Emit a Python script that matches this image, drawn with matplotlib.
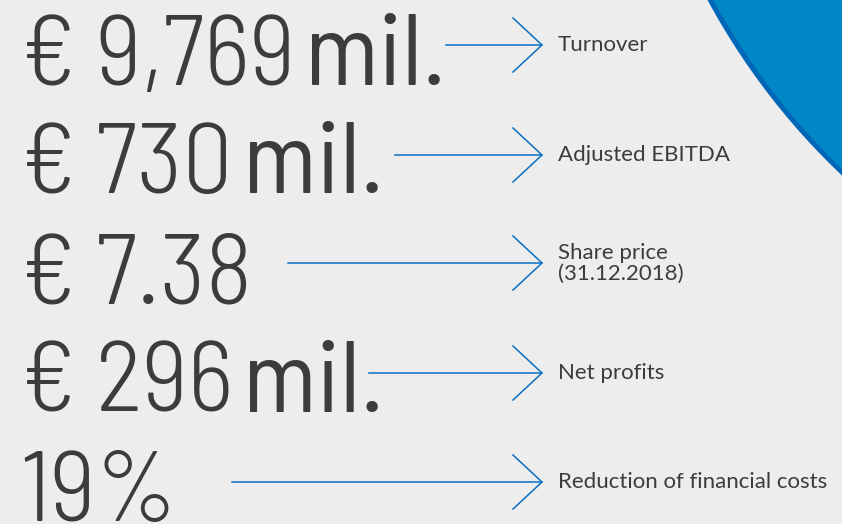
import matplotlib
matplotlib.use("Agg")
import matplotlib.pyplot as plt
from matplotlib.patches import Circle

# key figures
values = ["€ 9,769", "€ 730", "€ 7.38", "€ 296", "19%"]
units = ["mil.", "mil.", "", "mil.", ""]
labels = ["Turnover", "Adjusted EBITDA", "Share price\n(31.12.2018)",
          "Net profits", "Reduction of financial costs"]

# layout in pixels (y down)
baselines = [85, 193, 303, 412, 521]
arrow_y = [45, 155, 263, 373, 482]
line_start = [446, 395, 288, 369, 232]
tip_x = 542

bg = "#ededed"
txt = "#3c3c3c"
blue = "#0a6fc2"
num_font = "Barlow Semi Condensed"

fig = plt.figure(figsize=(8.42, 5.24), dpi=100)
fig.patch.set_facecolor(bg)
ax = fig.add_axes([0, 0, 1, 1])
ax.set_xlim(0, 842)
ax.set_ylim(524, 0)
ax.axis("off")

# blue corner shape
ax.add_patch(Circle((1324, -333), 700, color="#0066b8", zorder=1))
ax.add_patch(Circle((1324, -333), 695, color="#0088c6", zorder=1))

fig.canvas.draw()
r = fig.canvas.get_renderer()
inv = ax.transData.inverted()

for i, v in enumerate(values):
    t = ax.text(20, baselines[i], v, fontsize=72, family=num_font, weight=300,
                color=txt, va="baseline", ha="left")
    if units[i]:
        bb = t.get_window_extent(r)
        x1 = inv.transform((bb.x1, bb.y0))[0]
        ax.text(x1 + 10, baselines[i], units[i], fontsize=72, family=num_font,
                weight=400, color=txt, va="baseline", ha="left")
    y = arrow_y[i]
    ax.plot([line_start[i], tip_x], [y, y], color=blue, lw=1.1)
    ax.plot([tip_x - 29, tip_x, tip_x - 29], [y - 27, y, y + 27], color=blue, lw=1.1)
    ax.text(558, y, labels[i], fontsize=16, family="Lato", color=txt,
            va="center", ha="left", linespacing=1.05)

fig.savefig("out.png", dpi=100, facecolor=bg)
